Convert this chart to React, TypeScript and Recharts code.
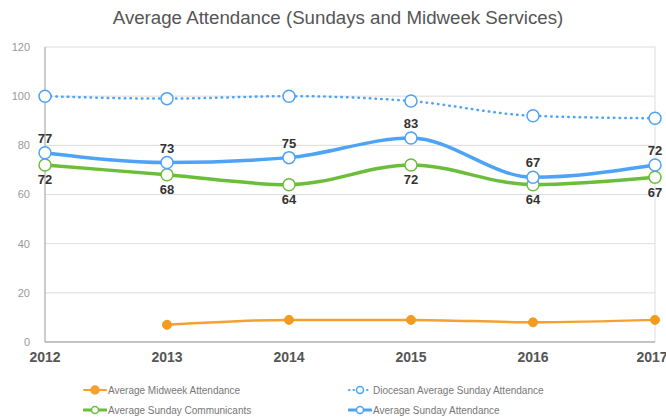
import { LineChart, Line, XAxis, YAxis, CartesianGrid, Legend, LabelList, ReferenceLine } from 'recharts'

const years = [2012, 2013, 2014, 2015, 2016, 2017]
const midweek = [null, 7, 9, 9, 8, 9]
const diocesan = [100, 99, 100, 98, 92, 91]
const sundayAttendance = [77, 73, 75, 83, 67, 72]
const communicants = [72, 68, 64, 72, 64, 67]
const yTicks = [0, 20, 40, 60, 80, 100, 120]

const data = years.map((year, i) => ({
  year,
  midweek: midweek[i],
  diocesan: diocesan[i],
  sunday: sundayAttendance[i],
  communicants: communicants[i],
}))

const FONT = '"Liberation Sans", Arial, sans-serif'

const legendItems = [
  { name: 'Average Midweek Attendance', color: '#F5A031', filled: true, dashed: false, col: 0, row: 0 },
  { name: 'Diocesan Average Sunday Attendance', color: '#4DA3F5', filled: false, dashed: true, col: 1, row: 0 },
  { name: 'Average Sunday Communicants', color: '#6BBE3A', filled: false, dashed: false, col: 0, row: 1 },
  { name: 'Average Sunday Attendance', color: '#4DA3F5', filled: false, dashed: false, col: 1, row: 1 },
]

const LegendContent = () => (
  <div style={{ position: 'relative', width: 666, height: 40, fontFamily: FONT }}>
    {legendItems.map((it) => (
      <div
        key={it.name}
        style={{
          position: 'absolute',
          left: it.col === 0 ? 83 : 348,
          top: it.row * 20,
          display: 'flex',
          alignItems: 'center',
          fontSize: 10,
          color: '#777',
          whiteSpace: 'nowrap',
        }}
      >
        <svg width={24} height={12} style={{ marginRight: 1 }}>
          <line
            x1={1} y1={6} x2={23} y2={6}
            stroke={it.color}
            strokeWidth={it.dashed ? 2 : it.filled ? 2 : 3}
            strokeDasharray={it.dashed ? '0.5 4' : undefined}
            strokeLinecap="round"
          />
          <circle cx={12} cy={6} r={it.filled ? 4 : 3.5} fill={it.filled ? it.color : '#fff'} stroke={it.color} strokeWidth={1.5} />
        </svg>
        {it.name}
      </div>
    ))}
  </div>
)

const labelStyle = { fill: '#333', fontSize: 13, fontWeight: 700, fontFamily: FONT }

export default function App() {
  return (
    <div style={{ position: 'absolute', left: 0, top: 0, width: 666, height: 419, background: '#fff', overflow: 'hidden' }}>
      <div
        style={{
          position: 'absolute',
          top: 7,
          left: 0,
          width: 676,
          textAlign: 'center',
          fontFamily: FONT,
          fontSize: 18.7,
          color: '#555',
        }}
      >
        Average Attendance (Sundays and Midweek Services)
      </div>
      <LineChart width={666} height={419} data={data} margin={{ top: 47, right: 11, left: 0, bottom: 57 }}>
        <CartesianGrid vertical={false} stroke="#ddd" />
        <ReferenceLine x={2017} stroke="#ddd" />
        <XAxis
          dataKey="year"
          type="number"
          domain={[2012, 2017]}
          ticks={years}
          tickLine={false}
          axisLine={{ stroke: '#999' }}
          height={20}
          tick={{ fill: '#555', fontSize: 14, fontWeight: 700, fontFamily: FONT }}
          tickMargin={4}
        />
        <YAxis
          domain={[0, 120]}
          ticks={yTicks}
          width={45}
          tickLine={false}
          axisLine={{ stroke: '#999' }}
          tick={{ fill: '#999', fontSize: 11, fontFamily: FONT }}
          tickMargin={9}
        />
        <Legend
          layout="vertical"
          align="center"
          verticalAlign="middle"
          content={<LegendContent />}
          wrapperStyle={{ position: 'absolute', top: 384, left: 0, width: 666 }}
        />
        <Line
          type="monotone"
          dataKey="diocesan"
          stroke="#4DA3F5"
          strokeWidth={2.5}
          strokeDasharray="0.5 5.2"
          strokeLinecap="round"
          dot={{ r: 6, fill: '#fff', stroke: '#4DA3F5', strokeWidth: 1.5, strokeDasharray: '' }}
          isAnimationActive={false}
        />
        <Line
          type="monotone"
          dataKey="communicants"
          stroke="#6BBE3A"
          strokeWidth={3.5}
          dot={{ r: 6, fill: '#fff', stroke: '#6BBE3A', strokeWidth: 1.5 }}
          isAnimationActive={false}
        >
          <LabelList dataKey="communicants" position="bottom" offset={10} style={labelStyle} />
        </Line>
        <Line
          type="monotone"
          dataKey="sunday"
          stroke="#4DA3F5"
          strokeWidth={3.5}
          dot={{ r: 6, fill: '#fff', stroke: '#4DA3F5', strokeWidth: 1.5 }}
          isAnimationActive={false}
        >
          <LabelList dataKey="sunday" position="top" offset={10} style={labelStyle} />
        </Line>
        <Line
          type="monotone"
          dataKey="midweek"
          stroke="#F5A031"
          strokeWidth={2.5}
          dot={{ r: 4.5, fill: '#F39A1F', stroke: '#F39A1F', strokeWidth: 1 }}
          isAnimationActive={false}
        />
      </LineChart>
    </div>
  )
}
